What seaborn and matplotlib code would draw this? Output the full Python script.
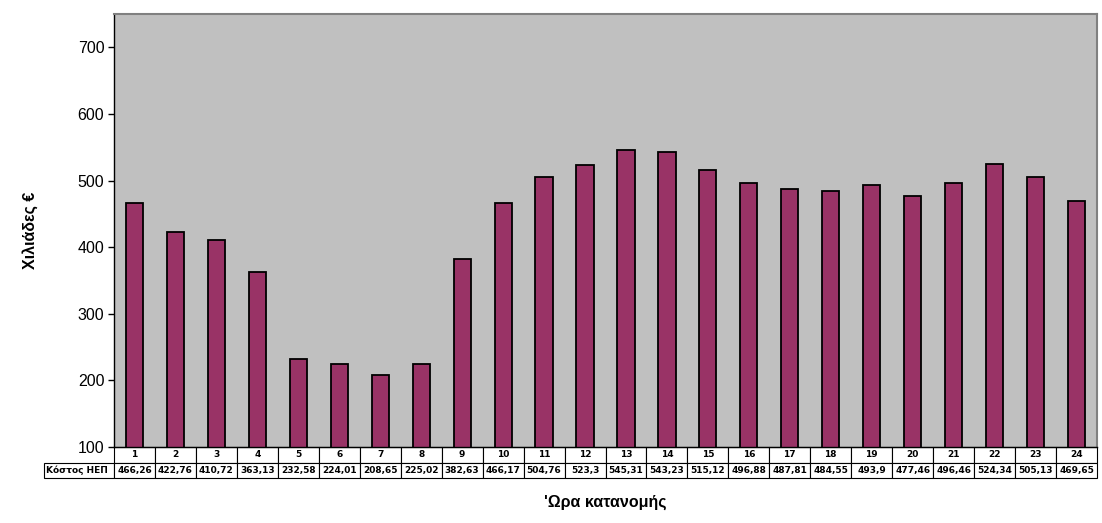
import numpy as np
import pandas as pd
import matplotlib
matplotlib.use("Agg")
import matplotlib.pyplot as plt
import seaborn as sns

# hourly cost of the day-ahead market (thousand euro)
hours = [str(h) for h in range(1, 25)]
cost = [466.26, 422.76, 410.72, 363.13, 232.58, 224.01, 208.65, 225.02,
        382.63, 466.17, 504.76, 523.3, 545.31, 543.23, 515.12, 496.88,
        487.81, 484.55, 493.9, 477.46, 496.46, 524.34, 505.13, 469.65]
cost_labels = ["466,26", "422,76", "410,72", "363,13", "232,58", "224,01",
               "208,65", "225,02", "382,63", "466,17", "504,76", "523,3",
               "545,31", "543,23", "515,12", "496,88", "487,81", "484,55",
               "493,9", "477,46", "496,46", "524,34", "505,13", "469,65"]
row_name = "Κόστος ΗΕΠ"
y_ticks = [100, 200, 300, 400, 500, 600, 700]

sns.set_style("white")
plt.rcParams['font.family'] = ['Liberation Sans', 'DejaVu Sans']
plt.rcParams['text.color'] = 'black'
plt.rcParams['axes.labelcolor'] = 'black'

df = pd.DataFrame({"hour": hours, "cost": cost})

fig = plt.figure(figsize=(11.02, 5.23), dpi=100)
W, H = 1102, 523
left, right, top, bottom = 114, 1097, 14, 447
ax = fig.add_axes([left / W, 1 - bottom / H, (right - left) / W, (bottom - top) / H])
ax.set_facecolor("#C0C0C0")

sns.barplot(data=df, x="hour", y="cost", color="#993366", edgecolor="black",
            linewidth=1.3, width=0.42, saturation=1, ax=ax)

ax.set_ylim(100, 750)
ax.set_xlim(-0.5, 23.5)
ax.set_yticks(y_ticks)
ax.tick_params(axis="y", labelsize=11.5, length=4, width=1, direction="out",
               left=True, pad=3, colors="black")
ax.set_xticks([])
ax.set_xticklabels([])

for s in ["top", "right"]:
    ax.spines[s].set_color("#808080")
    ax.spines[s].set_linewidth(1.5)
for s in ["left", "bottom"]:
    ax.spines[s].set_color("black")
    ax.spines[s].set_linewidth(1)

ax.set_ylabel("Χιλιάδες €", fontsize=11.5, fontweight="bold")
ax.yaxis.set_label_coords(-(114 - 38) / 983, 0.5)
ax.set_xlabel("'Ωρα κατανομής", fontsize=11.5, fontweight="bold")
ax.xaxis.set_label_coords(0.5, -(495 - 447) / 433)

# data table under the chart (bbox covers the hour columns, label column hangs left)
axw = right - left
axh = bottom - top
label_w = 70 / axw
row_h = 31 / axh
tbl = ax.table(cellText=[hours, cost_labels], rowLabels=["", row_name],
               colWidths=[1 / 24] * 24, cellLoc="center", rowLoc="left",
               bbox=[0, -row_h, 1, row_h])
tbl.auto_set_font_size(False)
tbl.set_fontsize(6.5)
tbl._autoColumns = []
for (r, c), cell in tbl.get_celld().items():
    cell.set_linewidth(0.8)
    cell.set_edgecolor("black")
    cell.set_facecolor("white")
    cell.get_text().set_fontweight("bold")
    cell.get_text().set_color("black")
    cell.get_text().set_family(["DejaVu Sans"])
    if c == -1:
        cell.set_width(label_w)
        cell.PAD = 0.03
        if r == 0:
            cell.visible_edges = ""

fig.savefig("out.png", dpi=100)
